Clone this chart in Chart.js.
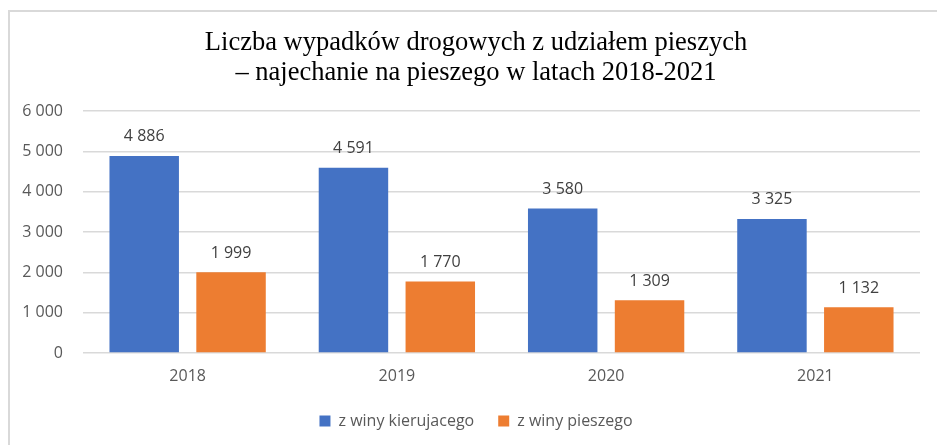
<!DOCTYPE html>
<html>
<head>
<meta charset="utf-8">
<script src="https://cdn.jsdelivr.net/npm/chart.js@4.4.1/dist/chart.umd.min.js"></script>
<style>
    html, body { margin: 0; padding: 0; background: #fff; overflow: hidden; }
    #frame {
        position: absolute; left: 8px; top: 10px; width: 960px; height: 480px;
        border-top: 2px solid #d9d9d9; border-left: 2px solid #d9d9d9;
    }
    #wrap { position: absolute; left: 0; top: 0; width: 937px; height: 445px; }
</style>
</head>
<body>
<div id="frame"></div>
<div id="wrap"><canvas id="chart"></canvas></div>
<script>
// Chart data
const years = ['2018', '2019', '2020', '2021'];
const driverFault = [4886, 4591, 3580, 3325];
const pedestrianFault = [1999, 1770, 1309, 1132];
const seriesNames = ['z winy kierujacego', 'z winy pieszego'];
const titleLines = ['Liczba wypadków drogowych z udziałem pieszych', '– najechanie na pieszego w latach 2018-2021'];

// 4886 -> "4 886"
function fmt(v) {
    return String(v).replace(/\B(?=(\d{3})+(?!\d))/g, ' ');
}

// Draw value labels above bars
const barLabels = {
    id: 'barLabels',
    afterDatasetsDraw(chart) {
        const ctx = chart.ctx;
        ctx.save();
        ctx.font = '16px "Open Sans"';
        ctx.fillStyle = '#404040';
        ctx.textAlign = 'center';
        ctx.textBaseline = 'middle';
        chart.data.datasets.forEach((ds, i) => {
            chart.getDatasetMeta(i).data.forEach((bar, j) => {
                ctx.fillText(fmt(ds.data[j]), bar.x, bar.y - 19);
            });
        });
        ctx.restore();
    }
};

// Center title and legend on the framed box rather than the canvas
const shiftBoxes = {
    id: 'shiftBoxes',
    afterLayout(chart) {
        if (chart.titleBlock) chart.titleBlock.left = 32;
        if (chart.legend) chart.legend.left = 32;
    }
};

new Chart(document.getElementById('chart'), {
    type: 'bar',
    data: {
        labels: years,
        datasets: [
            { label: seriesNames[0], data: driverFault, backgroundColor: '#4472C4' },
            { label: seriesNames[1], data: pedestrianFault, backgroundColor: '#ED7D31' }
        ]
    },
    options: {
        responsive: true,
        maintainAspectRatio: false,
        animation: false,
        categoryPercentage: 0.83,
        barPercentage: 0.8,
        layout: { padding: { top: 28, right: 17, bottom: 6, left: 0 } },
        plugins: {
            title: {
                display: true,
                text: titleLines,
                color: '#000',
                font: { family: '"Liberation Serif"', size: 26.5, weight: 'normal', lineHeight: 1.132 },
                padding: { top: 0, bottom: 23 }
            },
            legend: {
                position: 'bottom',
                labels: {
                    color: '#595959',
                    font: { family: '"Open Sans"', size: 16 },
                    boxWidth: 11,
                    boxHeight: 11,
                    padding: 24
                }
            },
            tooltip: { enabled: false }
        },
        scales: {
            x: {
                afterFit(scale) { scale.height = 36; },
                grid: { display: false },
                border: { display: false },
                ticks: { color: '#595959', font: { family: '"Open Sans"', size: 16 }, padding: 6 }
            },
            y: {
                min: 0,
                max: 6000,
                afterFit(scale) { scale.width = 83; },
                grid: { color: '#d9d9d9', lineWidth: 1.5, drawTicks: false },
                border: { display: false },
                ticks: {
                    stepSize: 1000,
                    padding: 20,
                    color: '#595959',
                    font: { family: '"Open Sans"', size: 16 },
                    callback: v => fmt(v)
                }
            }
        }
    },
    plugins: [barLabels, shiftBoxes]
});
</script>
</body>
</html>
